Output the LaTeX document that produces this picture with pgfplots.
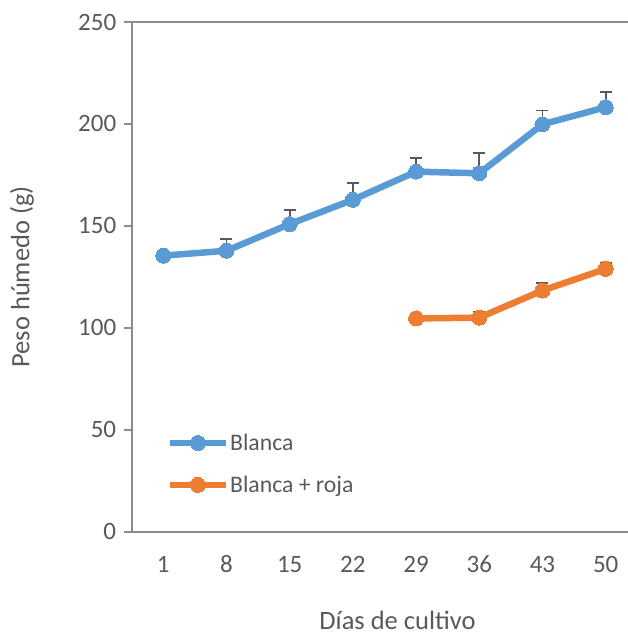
\documentclass[border=0pt]{standalone}
\usepackage{pgfplots}
\pgfplotsset{compat=1.18}
\usepackage{fontspec}
\setmainfont{Carlito}
\definecolor{cblue}{HTML}{5B9BD5}
\definecolor{corange}{HTML}{ED7D31}
\definecolor{ctext}{HTML}{595959}
\definecolor{caxis}{HTML}{8C8C8C}
\definecolor{cerr}{HTML}{595959}
\begin{document}
\begin{tikzpicture}
\useasboundingbox (-131.7pt,-103.3pt) rectangle (496.3pt,531.7pt);
\begin{axis}[
  scale only axis,
  width=496.3pt, height=509.7pt,
  xmin=-0.5, xmax=7.353,
  ymin=0, ymax=250,
  axis lines=left,
  axis line style={caxis, line width=1.8pt, -},
  xtick={0,...,7},
  xticklabels={1,8,15,22,29,36,43,50},
  major x tick style={draw=none},
  extra x ticks={-0.5,0.5,1.5,2.5,3.5,4.5,5.5,6.5},
  extra x tick labels={},
  extra x tick style={tick style={caxis, line width=1.8pt}, major tick length=7pt},
  ytick={0,50,...,250},
  tick align=outside,
  major tick length=8pt,
  ytick style={caxis, line width=1.8pt},
  ticklabel style={font=\fontsize{25}{30}\selectfont, text=ctext},
  /pgf/number format/assume math mode=true,
  xticklabel style={anchor=base, yshift=-33pt},
  yticklabel style={anchor=east, xshift=-4pt},
  xlabel={Días de cultivo},
  ylabel={Peso húmedo (g)},
  label style={font=\fontsize{26.5}{31}\selectfont, text=ctext},
  xlabel style={at={(axis description cs:0.5356,-0.191)}, anchor=base},
  ylabel style={at={(axis description cs:-0.221,0.5)}, anchor=center},
  clip=false,
  legend style={at={(axis description cs:0.064,0.133)}, anchor=west, draw=none, fill=none,
    font=\fontsize{23.7}{28}\selectfont, text=ctext, row sep=22pt,
    nodes={inner sep=1pt}},
  legend cell align=left,
  legend image code/.code={\draw[mark repeat=2,mark phase=2,#1] plot coordinates {(0pt,0pt)(28pt,0pt)(56pt,0pt)};},
  error bars/error bar style={cerr, line width=1.8pt},
  error bars/error mark options={rotate=90, mark size=6pt, cerr, line width=1.8pt},
]
\draw[caxis, line width=1.8pt] (rel axis cs:0,1) -- (rel axis cs:1,1);
\draw[caxis, line width=1.8pt] (rel axis cs:0,1) -- ++(-8pt,0pt);
\addplot[cblue, line width=6.5pt, mark=*, mark size=7.5pt, mark options={solid, fill=cblue, draw=cblue, line width=0pt},
  error bars/.cd, y dir=plus, y explicit]
  coordinates {
  (0,135.4) +- (0,1.0)
  (1,137.8) +- (0,5.7)
  (2,150.9) +- (0,7.0)
  (3,162.8) +- (0,8.4)
  (4,176.6) +- (0,6.8)
  (5,175.8) +- (0,9.9)
  (6,199.8) +- (0,6.8)
  (7,208.2) +- (0,7.3)
  };
\addlegendentry{Blanca}
\addplot[corange, line width=6.5pt, mark=*, mark size=7.5pt, mark options={solid, fill=corange, draw=corange, line width=0pt},
  error bars/.cd, y dir=plus, y explicit]
  coordinates {
  (4,104.6) +- (0,0.8)
  (5,105.0) +- (0,3.0)
  (6,118.3) +- (0,3.5)
  (7,128.9) +- (0,2.7)
  };
\addlegendentry{Blanca + roja}
\end{axis}
\end{tikzpicture}
\end{document}
